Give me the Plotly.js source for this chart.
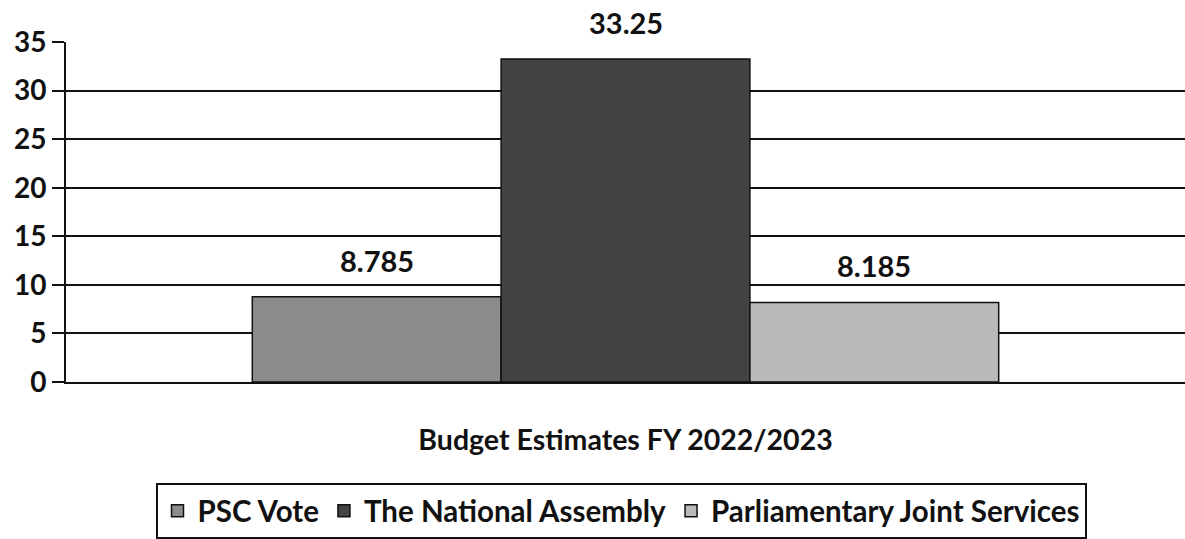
<!DOCTYPE html>
<html>
<head>
<meta charset="utf-8">
<script src="https://cdn.plot.ly/plotly-3.0.1.min.js"></script>
<style>
  html, body { margin: 0; padding: 0; background: #ffffff; }
  #chart { width: 1185px; height: 539px; }
</style>
</head>
<body>
<div id="chart"></div>
<script>
// ---- data ----
const categories = ["Budget Estimates FY 2022/2023"];
const seriesNames = ["PSC Vote", "The National Assembly", "Parliamentary Joint Services"];
const psc = [8.785];
const nationalAssembly = [33.25];
const jointServices = [8.185];
const yTicks = [0, 5, 10, 15, 20, 25, 30, 35];

// ---- styling ----
const FONT = "Lato, 'Open Sans', sans-serif";
const colors = ["#8c8c8c", "#434343", "#b9b9b9"];
const W = 1185, H = 539;
const margin = {l: 66, r: 0, t: 42, b: 155, pad: 0};
const bargap = 0.333;
const plotW = W - margin.l - margin.r;
const plotH = H - margin.t - margin.b;
const barPx = plotW * (1 - bargap) / 3;

const seriesValues = [psc, nationalAssembly, jointServices];

const traces = seriesValues.map((vals, i) => ({
  type: "bar",
  name: seriesNames[i],
  x: categories,
  y: vals,
  marker: {color: colors[i], line: {color: "#111111", width: 1.5}},
  hoverinfo: "skip"
}));

const annotations = [];
seriesValues.forEach((vals, i) => {
  vals.forEach((v, j) => {
    annotations.push({
      x: categories[j], y: v, xref: "x", yref: "y",
      text: String(v), showarrow: false,
      xanchor: "center", yanchor: "bottom",
      xshift: (i - 1) * barPx, yshift: 17,
      font: {family: FONT, size: 29, color: "#111111", weight: "bold"}
    });
  });
});

const layout = {
  width: W, height: H,
  margin: margin,
  paper_bgcolor: "#ffffff",
  plot_bgcolor: "#ffffff",
  barmode: "group",
  bargap: bargap,
  bargroupgap: 0,
  showlegend: true,
  legend: {
    orientation: "h",
    x: (621 - margin.l) / plotW, xanchor: "center",
    y: -(486 - (H - margin.b)) / plotH, yanchor: "top",
    bordercolor: "#111111", borderwidth: 2,
    font: {family: FONT, size: 29.5, color: "#111111", weight: "bold"},
    traceorder: "normal",
    itemwidth: 30,
    tracegroupgap: 0
  },
  xaxis: {
    type: "category",
    showline: true, linecolor: "#111111", linewidth: 2,
    ticks: "", showgrid: false,
    tickfont: {family: FONT, size: 28.5, color: "#111111", weight: "bold"},
    ticklabelstandoff: 32
  },
  yaxis: {
    range: [0, 35],
    tickvals: yTicks,
    ticktext: yTicks.map(String),
    showline: true, linecolor: "#111111", linewidth: 2,
    ticks: "outside", ticklen: 12, tickwidth: 2, tickcolor: "#111111",
    showgrid: true, gridcolor: "#111111", gridwidth: 2,
    zeroline: false,
    tickfont: {family: FONT, size: 28, color: "#111111", weight: "bold"}
  },
  annotations: annotations
};

Plotly.newPlot("chart", traces, layout, {displayModeBar: false, staticPlot: true});
</script>
</body>
</html>
